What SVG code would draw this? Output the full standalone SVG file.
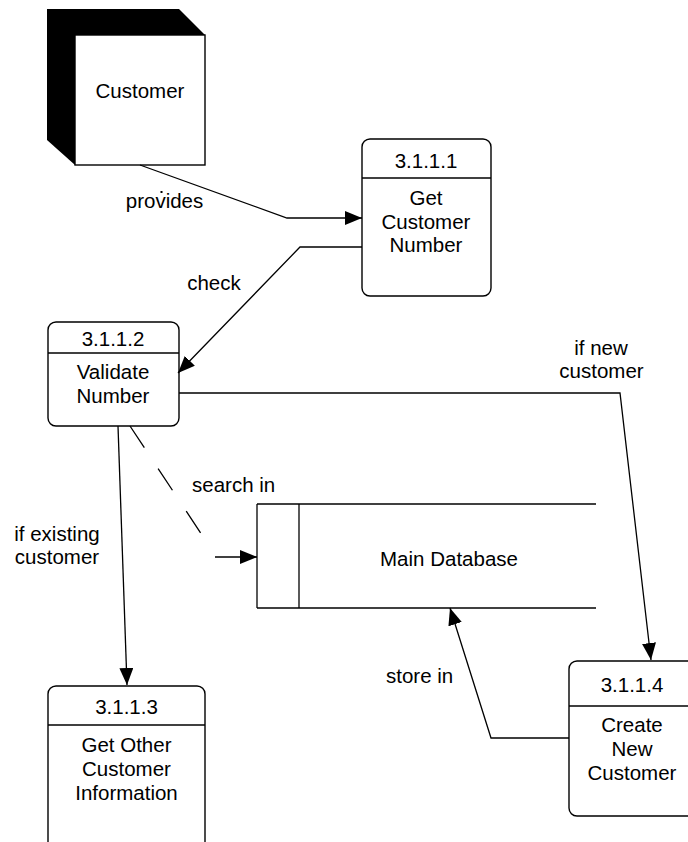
<svg xmlns="http://www.w3.org/2000/svg" width="688" height="842" viewBox="0 0 688 842">
<style>
  .box { fill: #fff; stroke: #000; stroke-width: 1.4; }
  .ln { fill: none; stroke: #000; stroke-width: 1.3; }
  .conn { fill: none; stroke: #000; stroke-width: 1.3; }
  text { font-family: "Liberation Sans", Arial, sans-serif; font-size: 20.5px; fill: #000; }
  .c { text-anchor: middle; }
</style>
<defs>
  <marker id="arr" markerUnits="userSpaceOnUse" markerWidth="18" markerHeight="14" refX="17" refY="7" orient="auto">
    <path d="M0,0 L17,7 L0,14 Z" fill="#000"/>
  </marker>
</defs>
<rect x="0" y="0" width="688" height="842" fill="#fff"/>

<g id="customer">
  <polygon points="47,9 179,9 205,35 205,165 75,165 47,140" fill="#000"/>
  <rect class="box" x="75" y="35" width="130" height="130"/>
  <text class="c" x="140" y="98">Customer</text>
</g>

<g id="p3111">
  <rect class="box" x="362" y="139" width="129" height="157" rx="8"/>
  <line class="ln" x1="362" y1="178" x2="491" y2="178"/>
  <text class="c" x="426" y="168">3.1.1.1</text>
  <text class="c" x="426" y="205">Get</text>
  <text class="c" x="426" y="229">Customer</text>
  <text class="c" x="426" y="252">Number</text>
</g>

<g id="p3112">
  <rect class="box" x="48" y="322" width="131" height="104" rx="8"/>
  <line class="ln" x1="48" y1="353" x2="179" y2="353"/>
  <text class="c" x="113" y="346">3.1.1.2</text>
  <text class="c" x="113" y="379">Validate</text>
  <text class="c" x="113" y="403">Number</text>
</g>

<g id="p3113">
  <rect class="box" x="48" y="686" width="157" height="164" rx="8"/>
  <line class="ln" x1="48" y1="725" x2="205" y2="725"/>
  <text class="c" x="126.5" y="714">3.1.1.3</text>
  <text class="c" x="126.5" y="752">Get Other</text>
  <text class="c" x="126.5" y="776">Customer</text>
  <text class="c" x="126.5" y="800">Information</text>
</g>

<g id="p3114">
  <rect class="box" x="569" y="661" width="126" height="155" rx="8"/>
  <line class="ln" x1="569" y1="706" x2="695" y2="706"/>
  <text class="c" x="632" y="692">3.1.1.4</text>
  <text class="c" x="632" y="732">Create</text>
  <text class="c" x="632" y="756">New</text>
  <text class="c" x="632" y="780">Customer</text>
</g>

<g id="database">
  <line class="ln" x1="257" y1="504" x2="596" y2="504"/>
  <line class="ln" x1="257" y1="608" x2="596" y2="608"/>
  <line class="ln" x1="257" y1="504" x2="257" y2="608"/>
  <line class="ln" x1="299" y1="504" x2="299" y2="608"/>
  <text class="c" x="449" y="566">Main Database</text>
</g>

<g id="connectors">
  <path class="conn" d="M140,165 L287,218 L362,218" marker-end="url(#arr)"/>
  <path class="conn" d="M362,247 L300,247 L178,373" marker-end="url(#arr)"/>
  <path class="conn" d="M179,393 L620,393 L651,660" marker-end="url(#arr)"/>
  <path class="conn" d="M118,426 L127,685" marker-end="url(#arr)"/>
  <path class="conn" d="M130,426 L202,535" stroke-dasharray="26 25"/>
  <path class="conn" d="M215,557 L257,557" marker-end="url(#arr)"/>
  <path class="conn" d="M569,738 L491,738 L450,608" marker-end="url(#arr)"/>
  <rect x="160.5" y="191" width="2" height="2" fill="#000"/>
</g>

<g id="labels">
  <text class="c" x="164.5" y="208">provides</text>
  <text class="c" x="214" y="290">check</text>
  <text class="c" x="601" y="355">if new</text>
  <text class="c" x="601.5" y="378">customer</text>
  <text x="192" y="492">search in</text>
  <text class="c" x="57" y="541">if existing</text>
  <text class="c" x="57" y="564">customer</text>
  <text x="386" y="683">store in</text>
</g>
</svg>
